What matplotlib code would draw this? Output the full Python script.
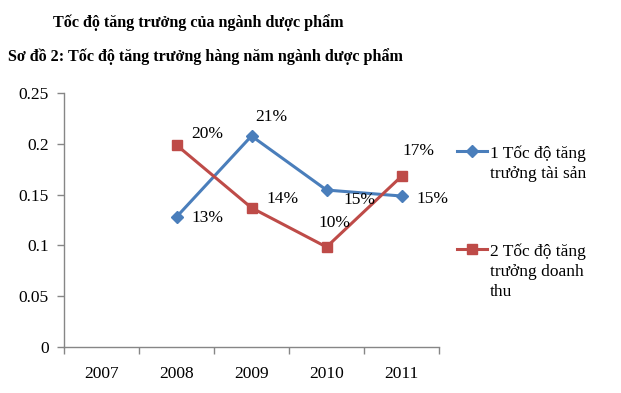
import matplotlib
matplotlib.use("Agg")
import matplotlib.pyplot as plt
from matplotlib.lines import Line2D
import numpy as np

years = ["2007", "2008", "2009", "2010", "2011"]
asset_growth = [None, 0.128, 0.2077, 0.1545, 0.1486]
revenue_growth = [None, 0.1988, 0.137, 0.0984, 0.168]
asset_labels = [None, "13%", "21%", "15%", "15%"]
revenue_labels = [None, "20%", "14%", "10%", "17%"]
series_names = [["1 Tốc độ tăng", "trưởng tài sản"], ["2 Tốc độ tăng", "trưởng doanh", "thu"]]
title1 = "Tốc độ tăng trưởng của ngành dược phẩm"
title2 = "Sơ đồ 2: Tốc độ tăng trưởng hàng năm ngành dược phẩm"
yticks = [0, 0.05, 0.1, 0.15, 0.2, 0.25]
ytick_labels = ["0", "0.05", "0.1", "0.15", "0.2", "0.25"]

# label offsets in points (styling)
asset_off = [None, (22, -1), (14, 14), (24, -7), (22, -2)]
revenue_off = [None, (22, 8), (22, 6), (6, 17), (12, 18)]

plt.rcParams['font.family'] = ['Liberation Serif', 'DejaVu Serif']

fig = plt.figure(figsize=(6.21, 3.93), dpi=100)
ax = fig.add_axes([64/621, 1-347/393, 375/621, 254/393])

blue = "#4A7EBB"
red = "#BE4B48"
x = np.arange(len(years))

def arr(v):
    return np.array([np.nan if a is None else a for a in v], dtype=float)

la, = ax.plot(x, arr(asset_growth), color=blue, lw=2.2, marker="D", ms=6.5)
lr, = ax.plot(x, arr(revenue_growth), color=red, lw=2.2, marker="s", ms=7.5)

for i in range(len(years)):
    if asset_growth[i] is not None:
        ax.annotate(asset_labels[i], (x[i], asset_growth[i]), xytext=asset_off[i],
                    textcoords="offset points", ha="center", va="center", fontsize=12.5)
    if revenue_growth[i] is not None:
        ax.annotate(revenue_labels[i], (x[i], revenue_growth[i]), xytext=revenue_off[i],
                    textcoords="offset points", ha="center", va="center", fontsize=12.5)

ax.set_xlim(-0.5, len(years) - 0.5)
ax.set_ylim(0, 0.25)
ax.set_yticks(yticks)
ax.set_yticklabels(ytick_labels)
ax.set_xticks(x)
ax.set_xticklabels(years)
ax.set_xticks(np.arange(-0.5, len(years), 1.0), minor=True)
ax.tick_params(axis="x", which="major", length=0, pad=14, labelsize=12.5)
ax.tick_params(axis="x", which="minor", length=5, color="#868686", width=1)
ax.tick_params(axis="y", length=5, color="#868686", width=1, labelsize=12.5, pad=6)
for s in ["top", "right"]:
    ax.spines[s].set_visible(False)
for s in ["left", "bottom"]:
    ax.spines[s].set_color("#868686")
    ax.spines[s].set_linewidth(1)

blank = Line2D([], [], color="none")
legend_tops = [145, 243]
for handle, name, top in zip([la, lr], series_names, legend_tops):
    hs = [handle] + [blank] * (len(name) - 1)
    fig.legend(handles=hs, labels=name, loc="upper left",
               bbox_to_anchor=(457/621, 1-top/393),
               frameon=False, fontsize=12.5, handlelength=1.73, handletextpad=0.17,
               labelspacing=0.235, borderpad=0, borderaxespad=0)

fig.text(53/621, 1-27/393, title1, fontsize=11.6, fontweight="bold", va="baseline", ha="left")
fig.text(8/621, 1-61/393, title2, fontsize=11.6, fontweight="bold", va="baseline", ha="left")

fig.savefig("out.png", dpi=100)
